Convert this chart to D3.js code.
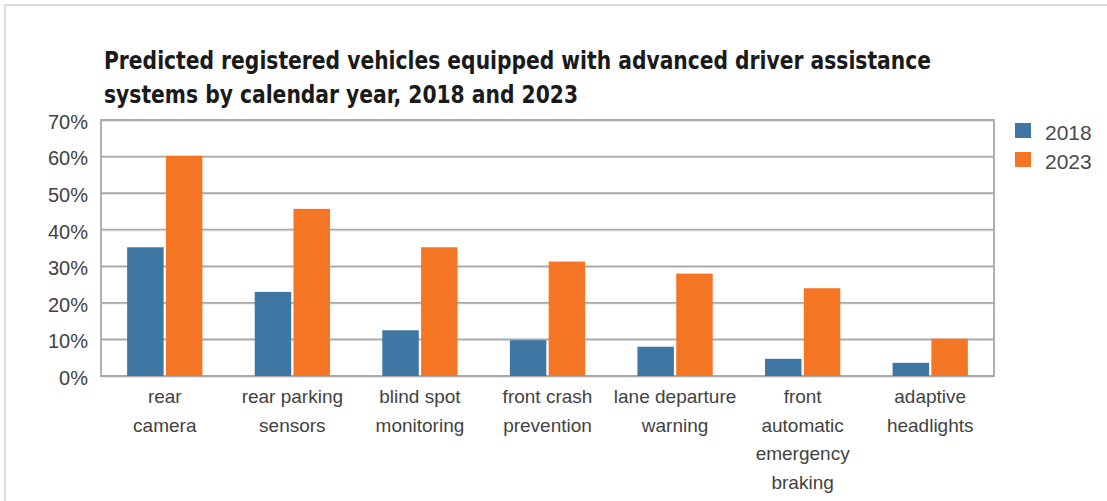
<!DOCTYPE html>
<html>
<head>
<meta charset="utf-8">
<script src="https://cdn.jsdelivr.net/npm/d3@7"></script>
<style>
  html, body { margin: 0; padding: 0; background: #fff; }
  svg { display: block; }
</style>
</head>
<body>
<svg id="chart" width="1107" height="501"></svg>
<script>
const categories = ["rear camera", "rear parking sensors", "blind spot monitoring", "front crash prevention", "lane departure warning", "front automatic emergency braking", "adaptive headlights"];
const categoryLines = [["rear", "camera"], ["rear parking", "sensors"], ["blind spot", "monitoring"], ["front crash", "prevention"], ["lane departure", "warning"], ["front", "automatic", "emergency", "braking"], ["adaptive", "headlights"]];
const seriesNames = ["2018", "2023"];
const values2018 = [35.2, 23.0, 12.5, 9.8, 8.0, 4.7, 3.6];
const values2023 = [60.2, 45.7, 35.2, 31.3, 28.0, 24.0, 10.2];
const yTicks = [0, 10, 20, 30, 40, 50, 60, 70];
const titleLines = ["Predicted registered vehicles equipped with advanced driver assistance", "systems by calendar year, 2018 and 2023"];

const colors = { "2018": "#3e76a4", "2023": "#f47524" };
const svg = d3.select("#chart");
const W = 1107, H = 501;
const plot = { left: 101, right: 994, top: 120, bottom: 376 };

// page card border
svg.append("line").attr("x1", 4).attr("x2", W).attr("y1", 5).attr("y2", 5).attr("stroke", "#dedede").attr("stroke-width", 2);
svg.append("line").attr("x1", 5).attr("x2", 5).attr("y1", 4).attr("y2", H).attr("stroke", "#dedede").attr("stroke-width", 2);

// title
const titleFont = "'Liberation Sans Narrow','Arial Narrow','DejaVu Sans Condensed','Liberation Sans',Arial,sans-serif";
const titleWidths = [827, 474];
titleLines.forEach((t, i) => {
  svg.append("text")
    .attr("x", 104).attr("y", 69 + i * 33.5)
    .attr("font-family", titleFont)
    .attr("font-weight", "bold")
    .attr("font-size", 25)
    .attr("fill", "#1a1a1a")
    .attr("textLength", titleWidths[i])
    .attr("lengthAdjust", "spacingAndGlyphs")
    .text(t);
});

const data = categories.map((c, i) => ({ cat: c, lines: categoryLines[i], vals: { "2018": values2018[i], "2023": values2023[i] } }));

const x0 = d3.scaleBand().domain(categories).range([plot.left, plot.right]).paddingInner(0.41).paddingOuter(0.205);
const x1 = d3.scaleBand().domain(seriesNames).range([0, x0.bandwidth()]).paddingInner(0.06);
const y = d3.scaleLinear().domain([0, 70]).range([plot.bottom, plot.top]);

// gridlines
const grid = svg.append("g");
yTicks.forEach(t => {
  grid.append("line").attr("x1", plot.left).attr("x2", plot.right)
    .attr("y1", y(t) + 1.2).attr("y2", y(t) + 1.2).attr("stroke", "#e3e3e3").attr("stroke-width", 1);
  grid.append("line").attr("x1", plot.left).attr("x2", plot.right)
    .attr("y1", y(t)).attr("y2", y(t)).attr("stroke", "#a9a9a9").attr("stroke-width", 1.8);
});
// frame
svg.append("rect").attr("x", plot.left).attr("y", plot.top)
  .attr("width", plot.right - plot.left).attr("height", plot.bottom - plot.top)
  .attr("fill", "none").attr("stroke", "#a9a9a9").attr("stroke-width", 1.8);

// bars
const groups = svg.append("g").selectAll("g").data(data).join("g")
  .attr("transform", d => `translate(${x0(d.cat)},0)`);
groups.selectAll("rect").data(d => seriesNames.map(s => ({ s, v: d.vals[s] }))).join("rect")
  .attr("x", d => x1(d.s))
  .attr("width", x1.bandwidth())
  .attr("y", d => y(d.v))
  .attr("height", d => y(0) - y(d.v))
  .attr("fill", d => colors[d.s]);

// y axis labels
const yAxis = d3.axisLeft(y).tickValues(yTicks).tickFormat(d => d + "%").tickSize(0).tickPadding(0);
const ya = svg.append("g").attr("transform", `translate(${plot.left - 13},2)`).call(yAxis);
ya.select(".domain").remove();
ya.selectAll("text").attr("font-family", "'Liberation Sans',Arial,sans-serif").attr("font-size", 20).attr("fill", "#424242");

// x category labels
const xl = svg.append("g");
data.forEach(d => {
  const cx = x0(d.cat) + x0.bandwidth() / 2;
  const t = xl.append("text").attr("text-anchor", "middle")
    .attr("font-family", "'Liberation Sans',Arial,sans-serif").attr("font-size", 19).attr("fill", "#424242");
  d.lines.forEach((ln, i) => {
    t.append("tspan").attr("x", cx).attr("y", 403 + i * 28.7).text(ln);
  });
});

// legend
const lg = svg.append("g");
seriesNames.forEach((s, i) => {
  lg.append("rect").attr("x", 1015).attr("y", 123 + i * 29).attr("width", 16).attr("height", 15).attr("fill", colors[s]);
  lg.append("text").attr("x", 1045).attr("y", 139.5 + i * 29)
    .attr("font-family", "'Liberation Sans',Arial,sans-serif").attr("font-size", 21).attr("fill", "#4a4a4a").text(s);
});
</script>
</body>
</html>
